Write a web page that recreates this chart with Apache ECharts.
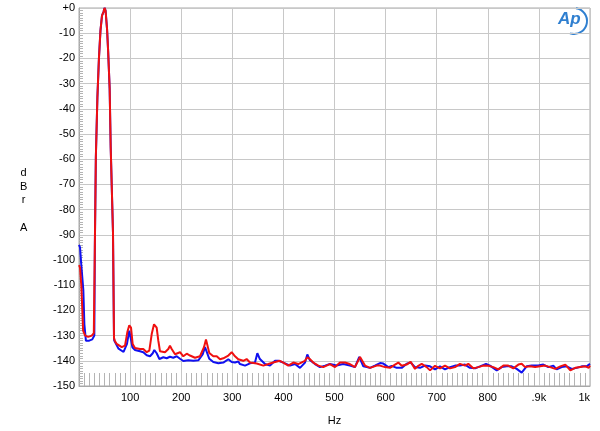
<!DOCTYPE html>
<html>
<head>
<meta charset="utf-8">
<script src="https://cdn.jsdelivr.net/npm/echarts@6/dist/echarts.min.js"></script>
<style>
html,body{margin:0;padding:0;background:#fff;}
#c{width:600px;height:431px;}
</style>
</head>
<body>
<div id="c"></div>
<script>
// Frequency (Hz) / level (dBrA) pairs
var blueData = [
[0,-94],[2,-95],[4.5,-102],[8.5,-112],[10.5,-125.5],[12,-126],[13.5,-132],[20,-132],[26,-131.5],[30,-130],
[31,-95],[33,-59],[36,-35.5],[39,-20],[42,-9],[45,-3],[48,-1.5],[50,0],[52,-1],[55,-8.7],[57,-17],[60,-32],[62,-55],[66.5,-89],[68.5,-131],
[69,-132],[77.4,-135.2],[87.2,-136.5],[93.9,-133.3],[98.4,-128],[101.6,-128.3],[104.4,-134.6],[109.6,-135.7],[119.4,-136.2],[125.8,-136.6],
[132.5,-137.8],[139,-138.2],[144.3,-137],[147.4,-135.7],[152,-137],[157.3,-139.3],[165,-138.6],[171.6,-139],[178,-138.4],[184.5,-138.8],
[191.2,-138.2],[197.7,-139.2],[204.1,-140.1],[214,-139.8],[223.7,-140],[233.5,-139.8],[242,-137.5],[246.6,-134.6],[249.9,-135],[255,-139.2],
[262.8,-140.5],[272.6,-141],[282.4,-140.7],[292.2,-139.4],[298.8,-140.5],[305.3,-140.7],[311.7,-140.3],[315,-141.3],[324.9,-141.9],[334.6,-141],[344.4,-140.7],
[349,-137],[354,-139.3],[364,-141.3],[373.8,-141.9],[383.6,-140],[390,-140],[399.8,-140.7],[413,-141.9],[422.7,-141.3],[432.5,-142.8],
[442.3,-140.7],[446.8,-137.5],[452,-139.8],[461.8,-141.3],[471.6,-142.5],[481.4,-141.9],[491,-141.3],[504,-141.9],[517,-141.3],[530,-141.9],
[540,-142.5],[548.5,-138.5],[556.4,-142.2],[569.5,-142.8],[579,-141.9],[589,-140.9],[595.5,-141.1],[605.3,-142.5],[612,-142],[621.7,-142.8],
[631.5,-142.8],[641.3,-141.2],[649,-140.7],[657.5,-142.5],[667.3,-142.8],[677,-141.9],[686.9,-142.2],[696.7,-143.4],[706.5,-142.2],[716.2,-143.4],
[726,-142.5],[735.8,-141.9],[745.6,-141.9],[755.4,-141.5],[765,-142.8],[775,-143],[784.7,-142.2],[796.5,-141.2],[804.3,-141.9],[817.4,-143.8],
[827.2,-142.5],[837,-142.2],[846.8,-142.2],[856.6,-143.2],[866.3,-144.7],[876,-142.2],[886,-141.9],[898.8,-141.9],[908.6,-141.5],[918.4,-142.5],
[928.2,-141.9],[934.8,-143.4],[944.6,-142.5],[954.4,-142.2],[964.2,-143.2],[974,-142.8],[983.8,-142.2],[993.5,-142.2],[1000,-141.2]
];
var redData = [
[0,-102],[2,-103],[4.5,-110],[6.5,-120],[8,-128],[12,-130],[18,-130.5],[25,-130],[29,-129],
[31,-95],[33,-59],[36,-35.5],[39,-20],[42,-9],[45,-3],[48,-1.5],[50,0],[52,-1],[55,-8.7],[57,-17],[60,-32],[62,-55],[66.5,-89],[68.5,-131],
[70,-132],[73.8,-133.3],[83.6,-134.6],[90,-134],[94.5,-128.7],[98.4,-125.9],[101.8,-126.8],[105,-133.3],[109.6,-134.9],[119.4,-135.3],
[125.8,-135.3],[132.5,-136.6],[137.6,-136],[142.3,-129.4],[146.8,-125.5],[152,-126.8],[155.2,-132],[158.5,-136.2],[168.3,-136.6],
[174.8,-135.3],[178,-134],[181.4,-135.3],[187.9,-137.4],[197.7,-136.6],[204.1,-138.2],[210.8,-137.2],[217.2,-137.9],[227,-138.8],
[236.8,-138.2],[244.6,-134.6],[248.5,-131.5],[251,-131.7],[255,-136.9],[262.8,-138.2],[269.5,-138.2],[276,-139.4],[282.4,-139],
[292.2,-137.9],[298.8,-136.6],[305.3,-138.2],[311.7,-139.4],[321.5,-140],[328,-139.3],
[334.6,-140.7],[347.8,-141.1],[360.7,-141.9],[370.5,-141.3],[380,-140.7],[393,-140],[399.8,-140.7],[409.6,-141.9],[419.4,-140.7],[429,-141.3],
[442,-140],[447,-138.6],[451.6,-139.3],[458.5,-140.7],[468.3,-141.9],[478,-142.5],[491,-141.3],[501,-142.5],[510.8,-140.7],[520.5,-140.7],
[530,-141.3],[540,-142.5],[550,-138.5],[559.7,-141.9],[569.5,-142.8],[582.6,-141.9],[589,-141.9],[598.8,-142.5],[608.6,-142.8],[618.4,-141.5],
[624.9,-140.7],[631.5,-142],[641,-141.5],[649,-140.4],[657.5,-143.2],[664,-142],[670.6,-141.2],[680.4,-142.5],[687,-143.8],[696.7,-142],
[706.5,-143],[716.2,-141.9],[726,-143],[735.8,-142.5],[745.6,-141.2],[755.4,-141.9],[761.8,-141.2],[771.6,-143],[781.4,-142.5],[791.2,-141.9],
[801,-142],[810.8,-142.5],[820.7,-143.4],[830.5,-141.9],[840,-141.9],[850,-143],[859.9,-141.5],[866.3,-141.2],[873,-142.5],[882.7,-142.2],
[892.6,-142.5],[902.5,-142.2],[912.3,-141.9],[922,-142.5],[932,-143.2],[941.9,-142.2],[951.7,-141.5],[961.5,-143.8],[971.4,-142.8],[981.2,-142.5],
[991,-142.2],[997.6,-142.8],[1000,-141.9]
];
var xTickLabels = ['', '100', '200', '300', '400', '500', '600', '700', '800', '.9k', '1k'];
var yTickLabels = ['+0','-10','-20','-30','-40','-50','-60','-70','-80','-90','-100','-110','-120','-130','-140','-150'];

var chart = echarts.init(document.getElementById('c'), null, {renderer:'canvas'});
var font = 'Liberation Sans, Arial, sans-serif';
chart.setOption({
  animation: false,
  backgroundColor: '#ffffff',
  grid: {left: 79, right: 10, top: 8, bottom: 42, show: true, borderColor: '#a8a8a8', borderWidth: 1},
  xAxis: {
    type: 'value', min: 0, max: 1000, interval: 100,
    name: 'Hz', nameLocation: 'middle', nameGap: 29,
    nameTextStyle: {fontFamily: font, fontSize: 11, color: '#000'},
    axisLine: {show: true, onZero: false, lineStyle: {color: '#a8a8a8'}},
    axisTick: {show: false, inside: true},
    minorTick: {show: true, splitNumber: 10, length: 13, lineStyle: {color: '#b4b4b4', width: 1}},
    splitLine: {show: true, lineStyle: {color: '#c8c8c8', width: 1}},
    axisLabel: {
      fontFamily: font, fontSize: 11, color: '#000', margin: 6,
      alignMaxLabel: 'right',
      formatter: function (v) { return xTickLabels[Math.round(v / 100)]; }
    }
  },
  yAxis: {
    type: 'value', min: -150, max: 0, interval: 10,
    axisLine: {show: true, onZero: false, lineStyle: {color: '#a8a8a8'}},
    axisTick: {show: false, inside: true},
    minorTick: {show: true, splitNumber: 10, length: 4, lineStyle: {color: '#b4b4b4', width: 1}},
    splitLine: {show: true, lineStyle: {color: '#c8c8c8', width: 1}},
    axisLabel: {
      fontFamily: font, fontSize: 11, color: '#000', margin: 4,
      formatter: function (v) { return yTickLabels[Math.round(-v / 10)]; }
    }
  },
  graphic: [
    {type: 'text', left: 20, top: 166, style: {text: 'd\nB\nr\n\nA', fontFamily: font, fontSize: 11, lineHeight: 13.7, fill: '#000', textAlign: 'center'}},
    {type: 'text', left: 558, top: 11, style: {text: 'Ap', fontFamily: font, fontSize: 17, fontStyle: 'italic', fontWeight: 'bold', fill: '#2f7fd0'}},
    {type: 'arc', shape: {cx: 574, cy: 21, r: 13, startAngle: -Math.PI * 0.45, endAngle: Math.PI * 0.6}, style: {stroke: '#2f7fd0', lineWidth: 2, fill: null}}
  ],
  series: [
    {type: 'line', data: blueData, showSymbol: false, lineStyle: {color: '#1010f0', width: 2}, z: 2},
    {type: 'line', data: redData, showSymbol: false, lineStyle: {color: '#f01010', width: 2}, z: 3}
  ]
});
</script>
</body>
</html>
